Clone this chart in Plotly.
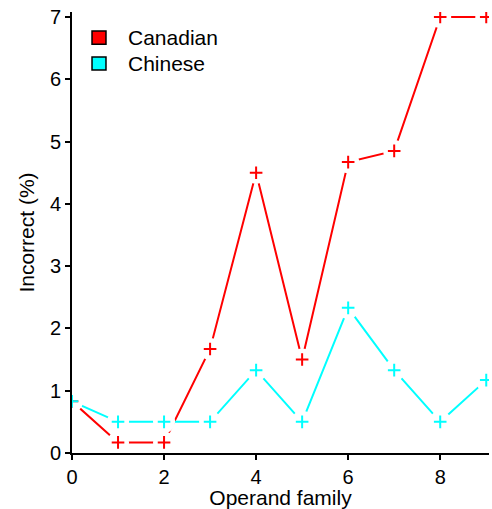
import plotly.graph_objects as go

families = [0, 1, 2, 3, 4, 5, 6, 7, 8, 9]
canadian = [0.83, 0.17, 0.17, 1.67, 4.5, 1.5, 4.67, 4.85, 7.0, 7.0]
chinese = [0.83, 0.5, 0.5, 0.5, 1.33, 0.5, 2.33, 1.33, 0.5, 1.17]
series_names = ["Canadian", "Chinese"]
colors = ["#ff0000", "#00ffff"]

X_RANGE = [0, 9.06]
Y_RANGE = [0, 7.08]

fig = go.Figure()
all_series = [canadian, chinese]
# lines (base subplot)
for vals, col in zip(all_series, colors):
    fig.add_trace(go.Scatter(x=families, y=vals, mode="lines",
                             line=dict(color=col, width=2), showlegend=False,
                             hoverinfo="skip"))
# white gaps around markers (overlay subplot, drawn above lines)
for vals in all_series:
    fig.add_trace(go.Scatter(x=families, y=vals, mode="markers",
                             marker=dict(symbol="circle", size=22, color="white",
                                         line=dict(width=0)),
                             showlegend=False, hoverinfo="skip",
                             xaxis="x2", yaxis="y2"))
# cross markers
for vals, col in zip(all_series, colors):
    fig.add_trace(go.Scatter(x=families, y=vals, mode="markers",
                             marker=dict(symbol="cross-thin", size=9,
                                         line=dict(color=col, width=2)),
                             showlegend=False, xaxis="x2", yaxis="y2"))

# legend (drawn manually)
legend_rows = [(0.957, 0.927, 0.942), (0.898, 0.8685, 0.883)]
for name, col, (top, bot, mid) in zip(series_names, colors, legend_rows):
    fig.add_shape(type="rect", xref="paper", yref="paper",
                  x0=0.048, x1=0.0815, y0=bot, y1=top,
                  fillcolor=col, line=dict(color="black", width=1.5))
    fig.add_annotation(text=name, xref="paper", yref="paper", x=0.1295, y=mid,
                       xanchor="left", yanchor="middle", showarrow=False,
                       font=dict(size=21))

axis_style = dict(showgrid=False, zeroline=False, showline=True,
                  linecolor="black", linewidth=2, ticks="outside", ticklen=5,
                  tickwidth=2, tickcolor="black", automargin=False)

fig.update_layout(
    width=492, height=509,
    margin=dict(l=72, r=3, t=12, b=56),
    plot_bgcolor="white", paper_bgcolor="white",
    font=dict(family="Liberation Sans, Arial, sans-serif", size=20, color="black"),
    showlegend=False,
    xaxis=dict(range=X_RANGE, tickvals=[0, 2, 4, 6, 8],
               title=dict(text="Operand family", font=dict(size=21), standoff=0),
               **axis_style),
    yaxis=dict(range=Y_RANGE, tickvals=list(range(8)),
               title=dict(text="Incorrect (%)", font=dict(size=21), standoff=10),
               **axis_style),
    xaxis2=dict(range=X_RANGE, overlaying="x", visible=False),
    yaxis2=dict(range=Y_RANGE, overlaying="y", visible=False),
)

fig.write_html("out.html", config={"displayModeBar": False},
               post_script="document.body.style.margin='0';")
